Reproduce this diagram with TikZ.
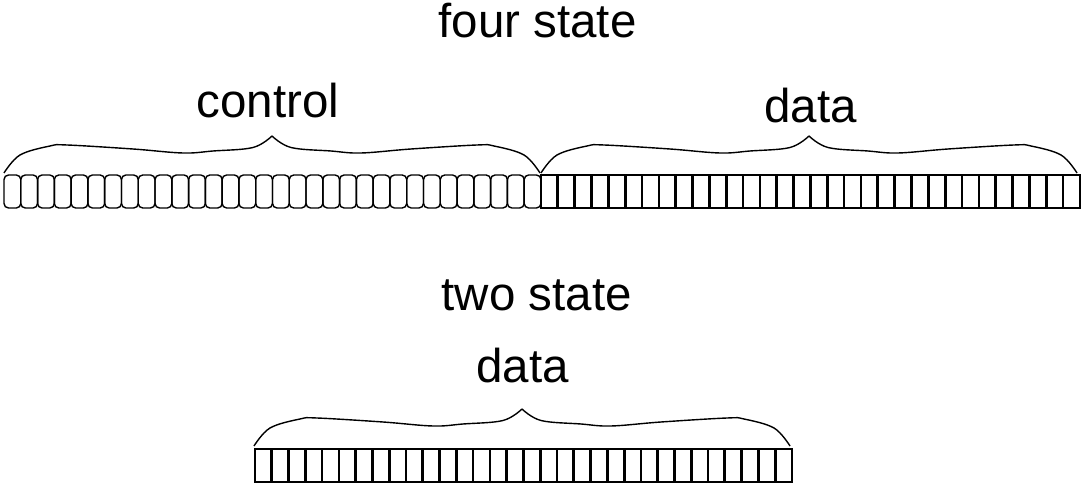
\documentclass[tikz,border=0pt]{standalone}
\usepackage{fontspec}
\setmainfont{Liberation Sans}
\tikzset{
  lbl/.style={font=\fontsize{47.5}{56}\selectfont, anchor=base, inner sep=0pt},
  qcell/.style={draw, line width=1.4pt, rounded corners=4.5pt, minimum width=16.78pt, minimum height=33pt, inner sep=0pt, outer sep=0pt},
  bcell/.style={draw, line width=2.7pt, minimum width=16.84pt, minimum height=33pt, inner sep=0pt, outer sep=0pt},
  bracestyle/.style={line width=1.4pt, line join=round},
  mybrace/.pic={
    \draw[bracestyle] plot[smooth,tension=0.6] coordinates {(0,0) (16,-18) (46,-27) (63,-28) (129,-24) (179,-20) (209,-22) (249,-25.5) (268,-37)}
      plot[smooth,tension=0.6] coordinates {(268,-37) (287,-25.5) (327,-22) (357,-20) (407,-24) (473,-28) (490,-27) (520,-18) (536,0)};
  }
}
\begin{document}
\begin{tikzpicture}[x=1pt,y=-1pt]
\useasboundingbox (0,0) rectangle (1082,486);
% cells
\foreach \i in {0,...,31} {
  \node[qcell] (q\i) at ({4+16.78*(\i+0.5)},191.5) {};
  \node[bcell] (r\i) at ({541+16.84*(\i+0.5)},191.5) {};
  \node[bcell, minimum width=16.78pt] (b\i) at ({255+16.78*(\i+0.5)},465.5) {};
}
% braces
\pic at (4,173) {mybrace};
\pic at (541,173) {mybrace};
\pic at (254,446) {mybrace};
% labels
\node[lbl] (four) at (537.5,38) {four state};
\node[lbl] (control) at (268,118) {control};
\node[lbl] (data1) at (810.5,122.5) {data};
\node[lbl] (two) at (536.7,311) {two state};
\node[lbl] (data2) at (522.6,382) {data};
\end{tikzpicture}
\end{document}
